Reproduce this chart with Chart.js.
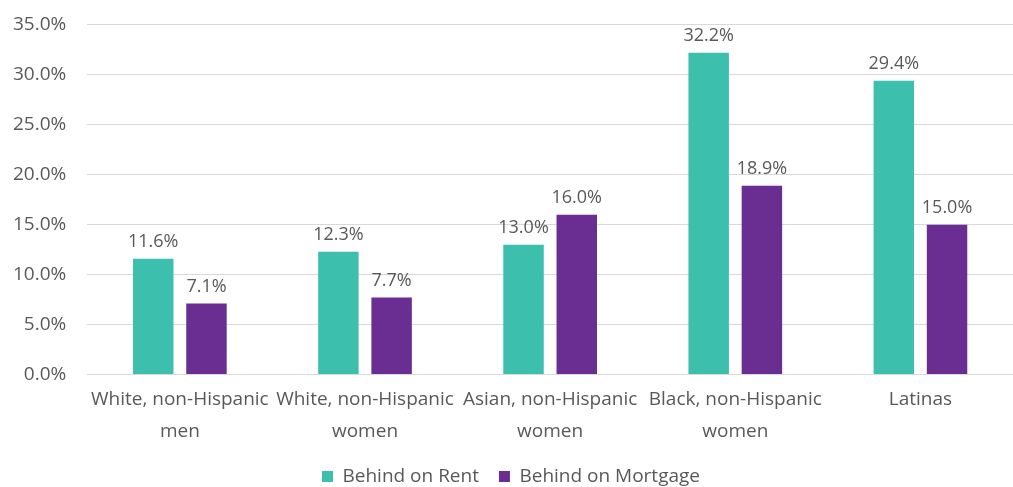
<!DOCTYPE html>
<html>
<head>
<meta charset="utf-8">
<script src="https://cdn.jsdelivr.net/npm/chart.js@4"></script>
<style>
  html, body { margin: 0; padding: 0; background: #fff; }
  #wrap { width: 1013px; height: 487px; position: relative; }
</style>
</head>
<body>
<div id="wrap"><canvas id="chart"></canvas></div>
<script>
// Chart data
const categories = [
  ["White, non-Hispanic", "men"],
  ["White, non-Hispanic", "women"],
  ["Asian, non-Hispanic", "women"],
  ["Black, non-Hispanic", "women"],
  ["Latinas"]
];
const rentValues = [11.6, 12.3, 13.0, 32.2, 29.4];
const mortgageValues = [7.1, 7.7, 16.0, 18.9, 15.0];
const seriesNames = ["Behind on Rent", "Behind on Mortgage"];
const seriesColors = ["#3dbfad", "#6a2d91"];

const textColor = "#595959";
const fontFamily = "'Open Sans', 'Liberation Sans', sans-serif";

// draws the value above each bar
const valueLabels = {
  id: 'valueLabels',
  afterDatasetsDraw(chart) {
    const ctx = chart.ctx;
    ctx.save();
    ctx.font = "18px " + fontFamily;
    ctx.fillStyle = textColor;
    ctx.textAlign = 'center';
    ctx.textBaseline = 'bottom';
    chart.data.datasets.forEach((ds, i) => {
      chart.getDatasetMeta(i).data.forEach((bar, j) => {
        ctx.fillText(ds.data[j].toFixed(1) + '%', bar.x, bar.y - 8);
      });
    });
    ctx.restore();
  }
};

const config = {
  type: 'bar',
  data: {
    labels: categories,
    datasets: [
      { label: seriesNames[0], data: rentValues, backgroundColor: seriesColors[0] },
      { label: seriesNames[1], data: mortgageValues, backgroundColor: seriesColors[1] }
    ]
  },
  options: {
    responsive: true,
    maintainAspectRatio: false,
    animation: false,
    categoryPercentage: 0.575,
    barPercentage: 0.76,
    layout: { padding: { left: -8, right: -17, top: 4, bottom: -9 } },
    plugins: {
      legend: {
        position: 'bottom',
        labels: {
          boxWidth: 11,
          boxHeight: 11,
          padding: 20,
          color: textColor,
          font: { size: 19, family: fontFamily }
        }
      },
      tooltip: { enabled: false }
    },
    scales: {
      x: {
        grid: { display: false },
        border: { display: false },
        afterFit(scale) { scale.height -= 1; },
        ticks: {
          color: textColor,
          maxRotation: 0,
          autoSkip: false,
          padding: 1,
          font: { size: 19, family: fontFamily, lineHeight: 1.67 }
        }
      },
      y: {
        min: 0,
        max: 35,
        grid: { color: '#d9d9d9', drawTicks: false },
        border: { display: false },
        ticks: {
          stepSize: 5,
          padding: 21,
          color: textColor,
          font: { size: 19, family: fontFamily, lineHeight: 0.4 },
          callback: v => v.toFixed(1) + '%'
        }
      }
    }
  },
  plugins: [valueLabels]
};

new Chart(document.getElementById('chart'), config);
</script>
</body>
</html>
